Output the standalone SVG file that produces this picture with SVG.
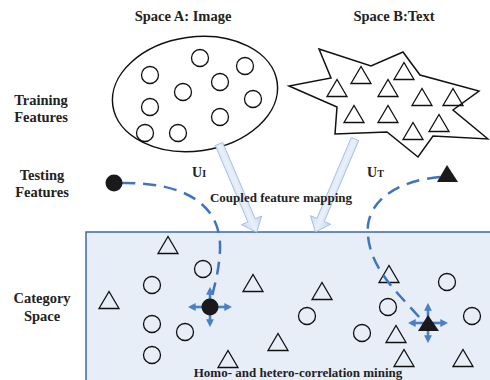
<svg xmlns="http://www.w3.org/2000/svg" width="490" height="380" viewBox="0 0 490 380">
  <defs>
    <linearGradient id="mapFill" x1="0" y1="0" x2="1" y2="0">
      <stop offset="0" stop-color="#c9daf0"/>
      <stop offset="0.5" stop-color="#e9f0fa"/>
      <stop offset="1" stop-color="#c3d6ee"/>
    </linearGradient>
    <marker id="tip" viewBox="0 0 10 10" refX="6" refY="5" markerWidth="3" markerHeight="3" orient="auto">
      <path d="M0,0 L10,5 L0,10 z" fill="#4a80c6"/>
    </marker>
    <symbol id="tri" overflow="visible">
      <path d="M-10,8.5 L0,-8.5 L10,8.5 z"/>
    </symbol>
  </defs>
  <style>
    .lbl { font-family: "Liberation Serif", "Times New Roman", serif; font-weight: bold; fill: #222; }
    .hdr { font-size: 14.5px; text-anchor: middle; }
    .side { font-size: 14.5px; text-anchor: middle; }
    .cap { font-size: 13px; text-anchor: middle; }
    .outline { fill: none; stroke: #111; stroke-width: 1.5; }
    .pt { fill: none; stroke: #111; stroke-width: 1.3; }
    .map { fill: url(#mapFill); stroke: #9db8dd; stroke-width: 0.8; }
    .dash { fill: none; stroke: #3f74c0; stroke-width: 2.5; stroke-dasharray: 13 8; }
    .spread { stroke: #4a80c6; stroke-width: 2.6; marker-end: url(#tip); }
  </style>

  <!-- side labels -->
  <g id="labels">
    <text class="lbl hdr" x="183" y="21">Space A: Image</text>
    <text class="lbl hdr" x="394" y="21">Space B:Text</text>
    <text class="lbl side" x="41" y="105">Training</text>
    <text class="lbl side" x="41" y="122">Features</text>
    <text class="lbl side" x="42" y="180">Testing</text>
    <text class="lbl side" x="42" y="197">Features</text>
    <text class="lbl side" x="42" y="303">Category</text>
    <text class="lbl side" x="42" y="321">Space</text>
  </g>

  <!-- category space -->
  <g id="category-space">
    <rect x="86" y="232" width="420" height="160" fill="#e7eef8" stroke="#3c68a8" stroke-width="1.5"/>
    <g class="pt">
      <circle cx="203" cy="269" r="8.5"/>
      <circle cx="152" cy="285" r="8.5"/>
      <circle cx="152" cy="324" r="8.5"/>
      <circle cx="185" cy="332" r="8.5"/>
      <circle cx="152" cy="355" r="8.5"/>
      <circle cx="307" cy="316" r="8.5"/>
      <circle cx="362" cy="333" r="8.5"/>
      <circle cx="388" cy="307" r="8.5"/>
      <circle cx="447" cy="282" r="8.5"/>
      <circle cx="472" cy="316" r="8.5"/>
      <use href="#tri" x="168" y="245"/>
      <use href="#tri" x="109" y="300"/>
      <use href="#tri" x="228" y="359"/>
      <use href="#tri" x="253" y="283"/>
      <use href="#tri" x="322" y="291"/>
      <use href="#tri" x="278" y="342"/>
      <use href="#tri" x="389" y="274"/>
      <use href="#tri" x="396" y="334"/>
      <use href="#tri" x="404" y="358"/>
      <use href="#tri" x="463" y="358"/>
    </g>
    <text class="lbl cap" x="298" y="377">Homo- and hetero-correlation mining</text>
  </g>

  <!-- space A: image features -->
  <g id="space-a">
    <ellipse cx="195" cy="94" rx="83" ry="57" transform="rotate(-8 195 94)" class="outline"/>
    <g class="pt">
      <circle cx="150" cy="75" r="8.5"/>
      <circle cx="200" cy="58" r="8.5"/>
      <circle cx="245" cy="66" r="8.5"/>
      <circle cx="183" cy="92" r="8.5"/>
      <circle cx="220" cy="82" r="8.5"/>
      <circle cx="253" cy="99" r="8.5"/>
      <circle cx="150" cy="107" r="8.5"/>
      <circle cx="220" cy="117" r="8.5"/>
      <circle cx="145" cy="133" r="8.5"/>
      <circle cx="178" cy="133" r="8.5"/>
    </g>
  </g>

  <!-- space B: text features -->
  <g id="space-b">
    <polygon class="outline" points="319,49 371,66 403,52 420,75 479,91 453,110 488,139 433,136 418,157 387,132 335,134 337,107 289,86 331,78"/>
    <g class="pt">
      <use href="#tri" x="361" y="75"/>
      <use href="#tri" x="337" y="88"/>
      <use href="#tri" x="404" y="71"/>
      <use href="#tri" x="388" y="88"/>
      <use href="#tri" x="422" y="97"/>
      <use href="#tri" x="453" y="97"/>
      <use href="#tri" x="354" y="114"/>
      <use href="#tri" x="388" y="114"/>
      <use href="#tri" x="413" y="131"/>
      <use href="#tri" x="439" y="123"/>
    </g>
  </g>

  <!-- coupled feature mapping -->
  <g id="mapping">
    <polygon class="map" transform="translate(219 144) rotate(-23.1)" points="-4,0 4,0 4,83 11,83 0,96 -11,83 -4,83"/>
    <polygon class="map" transform="translate(355 139) rotate(23.05)" points="-4,0 4,0 4,88 11,88 0,101 -11,88 -4,88"/>
    <text class="lbl cap" x="281" y="202">Coupled feature mapping</text>
    <text class="lbl" x="192" y="177" font-size="14">U<tspan font-size="10">I</tspan></text>
    <text class="lbl" x="367" y="177" font-size="14">U<tspan font-size="10">T</tspan></text>
  </g>

  <!-- projection of test samples -->
  <g id="connectors">
    <path class="dash" d="M122,183 C185,182 222,205 220,250 C219,270 215,284 212,296"/>
    <path class="dash" d="M440,177 C405,180 372,195 368,225 C366,250 378,272 400,296 L420,318"/>
  </g>

  <g id="test-image">
    <circle cx="114" cy="183" r="8.5" fill="#1a1a1a"/>
  </g>
  <g id="test-text">
    <path d="M437,182 L447,165 L458,182 z" fill="#1a1a1a"/>
  </g>

  <g id="image-in-category">
    <g class="spread">
      <line x1="210" y1="307" x2="210" y2="290"/>
      <line x1="210" y1="307" x2="210" y2="324"/>
      <line x1="210" y1="307" x2="191" y2="307"/>
      <line x1="210" y1="307" x2="229" y2="307"/>
    </g>
    <circle cx="210" cy="307" r="8.5" fill="#1a1a1a"/>
  </g>
  <g id="text-in-category">
    <g class="spread">
      <line x1="428" y1="323" x2="428" y2="306"/>
      <line x1="428" y1="323" x2="428" y2="340"/>
      <line x1="428" y1="323" x2="411" y2="323"/>
      <line x1="428" y1="323" x2="445" y2="323"/>
    </g>
    <path d="M418,331 L428,315 L439,331 z" fill="#1a1a1a"/>
  </g>
</svg>
